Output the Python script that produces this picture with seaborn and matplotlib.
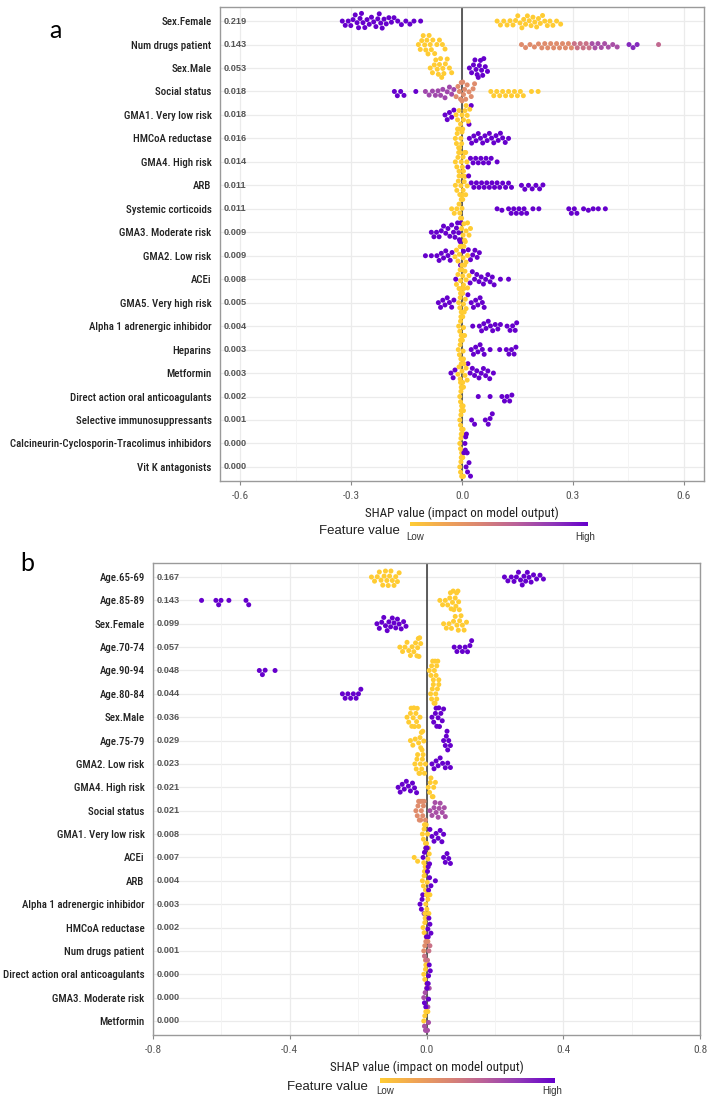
import numpy as np
import pandas as pd
import matplotlib
matplotlib.use("Agg")
import matplotlib.pyplot as plt
import matplotlib.transforms as mtrans
from matplotlib import font_manager as fm
from matplotlib.colors import LinearSegmentedColormap
import seaborn as sns

# feature-value colour levels (0 = low, 1 = high)
L, S, T, M, H = 0.0, 0.35, 0.5, 0.68, 1.0

# ---------------- panel a ----------------
a_features = ["Sex.Female", "Num drugs patient", "Sex.Male", "Social status", "GMA1. Very low risk",
              "HMCoA reductase", "GMA4. High risk", "ARB", "Systemic corticoids", "GMA3. Moderate risk",
              "GMA2. Low risk", "ACEi", "GMA5. Very high risk", "Alpha 1 adrenergic inhibidor", "Heparins",
              "Metformin", "Direct action oral anticoagulants", "Selective immunosuppressants",
              "Calcineurin-Cyclosporin-Tracolimus inhibidors", "Vit K antagonists"]
a_mean_abs = [0.219, 0.143, 0.053, 0.018, 0.018, 0.016, 0.014, 0.011, 0.011, 0.009,
              0.009, 0.008, 0.005, 0.004, 0.003, 0.003, 0.002, 0.001, 0.000, 0.000]
# SHAP values per feature, grouped by feature-value colour
a_points = [
    [(H, [-0.324, -0.316, -0.308, -0.301, -0.295, -0.289, -0.284, -0.280, -0.276, -0.272, -0.268, -0.263,
          -0.257, -0.251, -0.245, -0.239, -0.233, -0.228, -0.224, -0.220, -0.216, -0.211, -0.205, -0.198,
          -0.191, -0.184, -0.174, -0.164, -0.152, -0.141, -0.130, -0.112]),
     (L, [0.095, 0.104, 0.113, 0.122, 0.130, 0.138, 0.145, 0.151, 0.157, 0.162, 0.167, 0.172, 0.177,
          0.182, 0.187, 0.192, 0.197, 0.202, 0.207, 0.212, 0.218, 0.224, 0.231, 0.238, 0.246, 0.256, 0.267])],
    [(L, [-0.118, -0.113, -0.109, -0.105, -0.101, -0.098, -0.095, -0.092, -0.089, -0.086, -0.083, -0.079,
          -0.074, -0.068, -0.061, -0.053, -0.046]),
     (S, [0.161, 0.172, 0.184, 0.196, 0.207, 0.216, 0.224, 0.232, 0.240, 0.248, 0.256, 0.264, 0.272,
          0.280, 0.288, 0.296]),
     (T, [0.304, 0.312, 0.320, 0.328, 0.336, 0.344]),
     (M, [0.352, 0.360, 0.368, 0.377, 0.386, 0.396, 0.408, 0.420]),
     (0.85, [0.452, 0.463, 0.474]),
     (0.55, [0.532])],
    [(L, [-0.086, -0.080, -0.075, -0.071, -0.067, -0.064, -0.061, -0.058, -0.055, -0.052, -0.049, -0.045,
          -0.040, -0.034, -0.028]),
     (H, [0.020, 0.026, 0.031, 0.035, 0.038, 0.041, 0.044, 0.047, 0.050, 0.053, 0.056, 0.059, 0.063, 0.069])],
    [(H, [-0.183, -0.175, -0.166, -0.157, -0.125]),
     (0.72, [-0.099, -0.089, -0.080, -0.072, -0.065, -0.058, -0.052, -0.046, -0.040, -0.034, -0.028, -0.022]),
     (S, [-0.016, -0.011, -0.007, -0.004, -0.002, 0.000, 0.002, 0.004, 0.007, 0.010, 0.014, 0.019, 0.025,
          0.030, 0.034]),
     (L, [0.078, 0.086, 0.094, 0.102, 0.110, 0.118, 0.126, 0.134, 0.142, 0.150, 0.158, 0.166, 0.188, 0.206])],
    [(H, [-0.046, -0.040, -0.034, -0.028, -0.022, 0.019, 0.025]),
     (L, [-0.016, -0.012, -0.008, -0.004, 0.000, 0.004, 0.008, 0.011, 0.014, 0.017, 0.021])],
    [(L, [-0.018, -0.015, -0.012, -0.009, -0.006, -0.003, 0.000, 0.002, -0.013, -0.007, -0.001]),
     (H, [0.020, 0.026, 0.032, 0.038, 0.044, 0.050, 0.056, 0.062, 0.068, 0.074, 0.080, 0.086, 0.092, 0.098,
          0.104, 0.110, 0.117, 0.126])],
    [(L, [-0.018, -0.014, -0.011, -0.008, -0.005, -0.002, 0.001, 0.004, 0.007, 0.010, 0.013, -0.009, 0.003]),
     (H, [0.016, 0.023, 0.030, 0.037, 0.044, 0.051, 0.058, 0.065, 0.072, 0.079, 0.095])],
    [(L, [-0.018, -0.014, -0.010, -0.006, -0.003, 0.000, 0.003, 0.006, 0.010, 0.014, -0.008, 0.001, 0.008]),
     (H, [0.018, 0.025, 0.032, 0.039, 0.046, 0.053, 0.060, 0.067, 0.074, 0.081, 0.088, 0.095, 0.102, 0.110,
          0.118, 0.126, 0.134, 0.161, 0.170, 0.180, 0.190, 0.200, 0.210, 0.219])],
    [(L, [-0.028, -0.021, -0.014, -0.008, -0.004, -0.002, 0.000, 0.002, -0.006, -0.001]),
     (H, [0.095, 0.108, 0.126, 0.133, 0.140, 0.147, 0.154, 0.161, 0.168, 0.175, 0.192, 0.208, 0.289, 0.296,
          0.304, 0.311, 0.329, 0.342, 0.355, 0.369, 0.388])],
    [(H, [-0.083, -0.076, -0.069, -0.062, -0.056, -0.050, -0.044, -0.038, -0.033, -0.028, -0.023, -0.019,
          -0.015, -0.012, -0.009, -0.007, -0.005, -0.003]),
     (L, [-0.001, 0.003, 0.007, 0.011, 0.015, 0.019, 0.023, 0.005, 0.009])],
    [(H, [-0.099, -0.083, -0.068, -0.062, -0.056, -0.050, -0.044, -0.038, -0.032, -0.027, -0.004, 0.004,
          0.017, 0.023, 0.029, 0.035, 0.041, 0.047]),
     (L, [-0.019, -0.015, -0.011, -0.007, -0.003, 0.000, 0.003, 0.007, 0.011, 0.015, -0.005, 0.005])],
    [(L, [-0.015, -0.011, -0.008, -0.005, -0.002, 0.000, 0.002, 0.005, 0.008, 0.011, 0.015, 0.019, -0.004, 0.004]),
     (H, [-0.017, 0.022, 0.028, 0.034, 0.040, 0.046, 0.052, 0.058, 0.064, 0.070, 0.076, 0.082, 0.087,
          0.104, 0.126])],
    [(H, [-0.064, -0.058, -0.052, -0.046, -0.040, -0.034, -0.028, -0.022, 0.016, 0.025, 0.031, 0.037,
          0.043, 0.049, 0.055, 0.060]),
     (L, [-0.009, -0.006, -0.004, -0.002, 0.000, 0.002, 0.004, 0.006, 0.009, 0.011, -0.005, 0.001])],
    [(L, [-0.009, -0.006, -0.004, -0.002, 0.000, 0.002, 0.004, 0.007, -0.003, 0.001]),
     (H, [0.029, 0.047, 0.053, 0.059, 0.065, 0.071, 0.077, 0.083, 0.090, 0.097, 0.104, 0.122, 0.130,
          0.137, 0.144, 0.148])],
    [(L, [-0.010, -0.007, -0.005, -0.003, -0.001, 0.001, 0.003, -0.004, 0.000, 0.004]),
     (H, [0.025, 0.031, 0.037, 0.043, 0.049, 0.055, 0.060, 0.076, 0.102, 0.120, 0.127, 0.134, 0.141, 0.146])],
    [(H, [-0.030, -0.024, -0.019, 0.016, 0.022, 0.028, 0.034, 0.040, 0.046, 0.052, 0.058, 0.064, 0.070,
          0.075, 0.085]),
     (L, [-0.011, -0.008, -0.005, -0.002, 0.000, 0.002, 0.005, 0.008, 0.011, 0.014, -0.004, 0.004])],
    [(L, [-0.006, -0.004, -0.002, 0.000, 0.002, 0.004, -0.003, 0.001, 0.003, -0.001]),
     (H, [0.044, 0.076, 0.108, 0.115, 0.122, 0.129, 0.135])],
    [(L, [-0.006, -0.004, -0.002, 0.000, 0.002, 0.004, -0.003, 0.001, 0.003, -0.001]),
     (H, [0.026, 0.034, 0.063, 0.071, 0.076, 0.082])],
    [(L, [-0.006, -0.004, -0.002, 0.000, 0.002, -0.003, 0.001, -0.001]),
     (H, [0.005, 0.008, 0.010, 0.012, 0.014, 0.009])],
    [(L, [-0.006, -0.004, -0.002, 0.000, 0.002, 0.004, -0.003, 0.001, -0.001]),
     (H, [0.011, 0.015, 0.019, 0.023])],
]

# ---------------- panel b ----------------
b_features = ["Age.65-69", "Age.85-89", "Sex.Female", "Age.70-74", "Age.90-94", "Age.80-84", "Sex.Male",
              "Age.75-79", "GMA2. Low risk", "GMA4. High risk", "Social status", "GMA1. Very low risk",
              "ACEi", "ARB", "Alpha 1 adrenergic inhibidor", "HMCoA reductase", "Num drugs patient",
              "Direct action oral anticoagulants", "GMA3. Moderate risk", "Metformin"]
b_mean_abs = [0.167, 0.143, 0.099, 0.057, 0.048, 0.044, 0.036, 0.029, 0.023, 0.021,
              0.021, 0.008, 0.007, 0.004, 0.003, 0.002, 0.001, 0.000, 0.000, 0.000]
b_points = [
    [(L, [-0.161, -0.152, -0.144, -0.138, -0.133, -0.128, -0.124, -0.120, -0.116, -0.112, -0.108, -0.104,
          -0.100, -0.095, -0.090, -0.085, -0.080]),
     (H, [0.228, 0.238, 0.248, 0.256, 0.263, 0.269, 0.275, 0.280, 0.285, 0.290, 0.295, 0.300, 0.306,
          0.313, 0.322, 0.332, 0.342])],
    [(H, [-0.658, -0.616, -0.608, -0.601, -0.578, -0.528, -0.520]),
     (L, [0.039, 0.047, 0.055, 0.062, 0.068, 0.072, 0.076, 0.080, 0.084, 0.088, 0.092, 0.096, 0.070,
          0.078, 0.086, 0.094])],
    [(H, [-0.145, -0.138, -0.131, -0.125, -0.120, -0.115, -0.110, -0.105, -0.100, -0.095, -0.090, -0.085,
          -0.080, -0.074, -0.067, -0.060]),
     (L, [0.050, 0.058, 0.066, 0.073, 0.079, 0.084, 0.089, 0.093, 0.097, 0.101, 0.105, 0.110, 0.117])],
    [(L, [-0.078, -0.070, -0.063, -0.057, -0.052, -0.047, -0.042, -0.037, -0.032, -0.028, -0.024, -0.020,
          -0.017, -0.022, -0.026]),
     (H, [0.081, 0.089, 0.097, 0.105, 0.113, 0.120, 0.127, 0.132])],
    [(H, [-0.489, -0.480, -0.472, -0.443]),
     (L, [0.008, 0.013, 0.018, 0.023, 0.028, 0.033, 0.036, 0.015, 0.025, 0.020, 0.030])],
    [(H, [-0.246, -0.238, -0.230, -0.222, -0.214, -0.206, -0.199, -0.192]),
     (L, [0.012, 0.017, 0.022, 0.027, 0.032, 0.036, 0.020, 0.030, 0.025, 0.015])],
    [(L, [-0.057, -0.052, -0.047, -0.043, -0.039, -0.035, -0.031, -0.027, -0.023, -0.019, -0.045, -0.037,
          -0.029]),
     (H, [0.016, 0.021, 0.026, 0.030, 0.034, 0.038, 0.042, 0.046, 0.050, 0.028, 0.036])],
    [(L, [-0.047, -0.040, -0.033, -0.023, -0.019, -0.015, -0.011, -0.008, -0.017, -0.013]),
     (H, [0.050, 0.055, 0.060, 0.065, 0.070, 0.058, 0.062])],
    [(L, [-0.034, -0.030, -0.026, -0.022, -0.018, -0.014, -0.010, -0.006, -0.003, -0.028, -0.020, -0.012]),
     (H, [0.016, 0.022, 0.028, 0.034, 0.040, 0.047, 0.055, 0.062, 0.070])],
    [(H, [-0.083, -0.077, -0.071, -0.065, -0.059, -0.053, -0.047, -0.041, -0.035, -0.029]),
     (L, [0.005, 0.009, 0.013, 0.017, 0.021, 0.026, 0.011, 0.019])],
    [(S, [-0.031, -0.027, -0.023, -0.019, -0.015, -0.011, -0.007, -0.003, -0.025, -0.017, -0.009, -0.021,
          -0.013]),
     (M, [0.010, 0.016, 0.022, 0.028, 0.034, 0.040, 0.046, 0.052, 0.055, 0.025, 0.037])],
    [(L, [-0.012, -0.009, -0.006, -0.003, 0.000, 0.003, -0.007, -0.001]),
     (H, [0.010, 0.016, 0.022, 0.028, 0.034, 0.040, 0.045, 0.050])],
    [(L, [-0.036, -0.026, -0.008, -0.004, 0.000, 0.004, 0.008, -0.002, 0.006]),
     (H, [-0.010, -0.006, -0.002, 0.002, 0.005, 0.009, 0.050, 0.055, 0.060, 0.065, 0.070])],
    [(L, [-0.012, -0.009, -0.006, -0.003, 0.000, -0.007, -0.001, 0.002]),
     (H, [0.003, 0.006, 0.009, 0.013, 0.026])],
    [(H, [-0.019, -0.015, -0.011, -0.007, -0.013]),
     (L, [-0.005, -0.002, 0.001, 0.004, 0.007, 0.010, 0.000, 0.005])],
    [(L, [-0.010, -0.007, -0.004, -0.001, 0.002, -0.005]),
     (H, [0.000, 0.004, 0.007, 0.010, 0.013, 0.005])],
    [(S, [-0.008, -0.005, -0.002, 0.001, 0.004, -0.003]),
     (T, [-0.006, 0.000, 0.003, 0.007, 0.010])],
    [(L, [-0.008, -0.005, -0.002, 0.001, 0.003, -0.003]),
     (H, [0.002, 0.005, 0.008, 0.011, 0.006])],
    [(M, [-0.008, -0.004, 0.000, 0.004, 0.008]),
     (H, [-0.006, -0.002, 0.002, 0.006])],
    [(L, [-0.008, -0.005, -0.002, 0.001, 0.004]),
     (M, [-0.006, -0.003, 0.000, 0.003, 0.006])],
]

a_ticks = [-0.6, -0.3, 0.0, 0.3, 0.6]
b_ticks = [-0.8, -0.4, 0.0, 0.4, 0.8]


# pick narrow fonts if installed: medium weight for feature names, regular for axis text
def find_font(prefs):
    files = {f.fname.lower().split("/")[-1]: f.fname for f in fm.fontManager.ttflist}
    for p in prefs:
        for k, v in files.items():
            if k.startswith(p):
                return fm.FontProperties(fname=v)
    return None


narrow_med = find_font(["robotocondensed-medium", "notosans-condensedmedium", "robotocondensed-regular",
                        "notosans-condensed.", "notosans-condensedregular", "liberationsansnarrow-regular",
                        "dejavusanscondensed."])
narrow_reg = find_font(["robotocondensed-regular", "notosans-condensed.", "notosans-condensedregular",
                        "liberationsansnarrow-regular", "dejavusanscondensed."]) or narrow_med

if narrow_med is not None:
    plt.rcParams["font.family"] = [narrow_med.get_name(), "DejaVu Sans"]
    lab_size = 7.85
else:
    plt.rcParams["font.family"] = ["Liberation Sans", "DejaVu Sans"]
    lab_size = 6.8

shap_cmap = LinearSegmentedColormap.from_list(
    "shap", ["#FFCC33", "#F0A455", "#D98474", "#B9609A", "#9038B8", "#6600CC"])

W, Hgt = 708, 1096


def fig_box(x0, y0, x1, y1):
    # pixel box (top-left origin) -> figure fraction rect
    return [x0 / W, 1 - y1 / Hgt, (x1 - x0) / W, (y1 - y0) / Hgt]


def to_frame(features, rows):
    recs = []
    for feat, groups in zip(features, rows):
        for fval, xs in groups:
            for x in xs:
                recs.append((feat, x, fval))
    return pd.DataFrame(recs, columns=["feature", "shap", "fval"])


def font(base, size):
    if base is not None:
        fp = base.copy()
        fp.set_size(size)
        return fp
    return fm.FontProperties(family="Liberation Sans", size=size)


def draw_panel(ax, features, rows, mean_abs, ticks, xlim):
    df = to_frame(features, rows)
    n = len(features)
    ax.set_xlim(*xlim)
    ax.set_ylim(n - 0.4, -0.6)
    for y in range(n):
        ax.axhline(y, color="#EBEBEB", lw=0.9, zorder=0)
    for t in ticks:
        ax.axvline(t, color="#EBEBEB", lw=0.9, zorder=0)
    for t0, t1 in zip(ticks[:-1], ticks[1:]):
        ax.axvline((t0 + t1) / 2, color="#F3F3F3", lw=0.6, zorder=0)
    ax.axvline(0, color="#333333", lw=1.1, zorder=1)
    sns.swarmplot(data=df, x="shap", y="feature", hue="fval", order=features,
                  palette=shap_cmap, hue_norm=(0, 1), size=3.6, linewidth=0,
                  legend=False, orient="h", warn_thresh=1.0, ax=ax, zorder=3)
    ax.set_xlim(*xlim)
    ax.set_ylim(n - 0.4, -0.6)
    ax.set_xticks(ticks)
    ax.set_xticklabels([f"{t:.1f}" for t in ticks], color="#555555",
                       fontproperties=font(narrow_reg, 8.2))
    ax.set_yticks(range(n))
    ax.set_yticklabels(features, color="#222222", fontproperties=font(narrow_med, lab_size))
    ax.tick_params(axis="y", length=0, pad=6)
    ax.tick_params(axis="x", length=3, color="#888888", pad=4)
    ax.set_xlabel("SHAP value (impact on model output)", color="#222222", labelpad=4,
                  fontproperties=font(narrow_reg, 9.4))
    ax.set_ylabel("")
    for sp in ax.spines.values():
        sp.set_color("#9A9A9A")
        sp.set_linewidth(1.0)
    tr = mtrans.blended_transform_factory(ax.transAxes, ax.transData)
    for i, v in enumerate(mean_abs):
        ax.text(0.007, i, f"{v:.3f}", transform=tr, ha="left", va="center",
                fontsize=6.6, color="#555555", fontweight="bold", family="Liberation Sans")


def draw_legend(fig, bar_px, label_right, y_bar, y_text, y_lh):
    x0, x1 = bar_px
    cax = fig.add_axes(fig_box(x0, y_bar - 2.5, x1, y_bar + 2.5))
    cax.imshow(np.linspace(0, 1, 256)[None, :], aspect="auto", cmap=shap_cmap)
    cax.set_axis_off()
    fig.text(label_right / W, 1 - y_text / Hgt, "Feature value", ha="right", va="center",
             fontsize=9.5, color="#222222", family="Liberation Sans")
    fig.text((x0 - 4) / W, 1 - y_lh / Hgt, "Low", ha="left", va="center", fontsize=7,
             color="#333333", family="Liberation Sans")
    fig.text((x1 + 7) / W, 1 - y_lh / Hgt, "High", ha="right", va="center", fontsize=7,
             color="#333333", family="Liberation Sans")


fig = plt.figure(figsize=(W / 100, Hgt / 100), dpi=100)

ax_a = fig.add_axes(fig_box(220, 7, 704, 481))
draw_panel(ax_a, a_features, a_points, a_mean_abs, a_ticks, (-0.655, 0.655))
draw_legend(fig, (410, 588), 400, 524, 531, 537)
fig.text(55 / W, 1 - 30 / Hgt, "a", fontsize=18, family="Lato", ha="center", va="center")

ax_b = fig.add_axes(fig_box(153, 563, 700, 1035))
draw_panel(ax_b, b_features, b_points, b_mean_abs, b_ticks, (-0.8, 0.8))
draw_legend(fig, (380, 555), 368, 1080, 1087, 1091)
fig.text(27 / W, 1 - 563 / Hgt, "b", fontsize=18, family="Lato", ha="center", va="center")

fig.savefig("out.png", dpi=100, facecolor="white")
